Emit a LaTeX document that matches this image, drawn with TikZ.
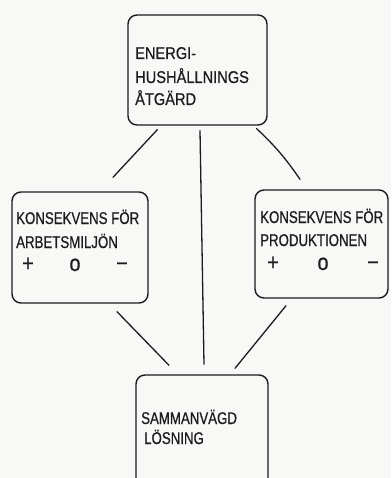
\documentclass[tikz,border=0pt]{standalone}
\usepackage{fontspec}
\setmainfont{Liberation Sans}
\newfontfamily\hand{Liberation Sans}[FakeStretch=0.78, FakeBold=0.6]
\newfontfamily\handwide{Liberation Sans}[FakeStretch=0.86, FakeBold=0.6]
\usetikzlibrary{calc}
\definecolor{paper}{HTML}{F8F8F6}
\definecolor{ink}{HTML}{1C1C1C}
\begin{document}
\begin{tikzpicture}[x=1pt,y=-1pt,
  card/.style={draw=ink, line width=1.4pt, rounded corners=9pt, inner sep=0pt},
  word/.style={anchor=base west, inner sep=0pt, text=ink,
               font=\hand\fontsize{17}{22}\selectfont},
  wideword/.style={word, font=\handwide\fontsize{17}{22}\selectfont},
  sign/.style={anchor=base, inner sep=0pt, text=ink,
               font=\handwide\fontsize{23}{24}\selectfont},
  link/.style={draw=ink, line width=1.3pt, line cap=round}]

  % sheet
  \fill[paper] (0,0) rectangle (391,478);
  \useasboundingbox (0,0) rectangle (391,478);
  \clip (0,0) rectangle (391,478);

  % boxes
  \node[card, minimum width=139pt, minimum height=110pt] (top)    at (197.5,70)  {};
  \node[card, minimum width=136pt, minimum height=111pt] (left)   at (80,247.5)  {};
  \node[card, minimum width=133pt, minimum height=108pt] (right)  at (321.5,244) {};
  \node[card, minimum width=132pt, minimum height=116pt] (bottom) at (202,433)   {};

  % measure
  \node[wideword] (t1) at (135,59)  {ENERGI-};
  \node[wideword] (t2) at (135,83)  {HUSHÅLLNINGS};
  \node[wideword] (t3) at (135,105) {ÅTGÄRD};

  % consequence for the working environment
  \node[word] (l1) at (16,224) {KONSEKVENS FÖR};
  \node[word] (l2) at (16,248) {ARBETSMILJÖN};
  \node[sign] (lp) at (28,271)  {+};
  \node[sign] (lo) at (75,271)  {o};
  \node[sign] (lm) at (122,271) {−};

  % consequence for production
  \node[word] (r1) at (260,223) {KONSEKVENS FÖR};
  \node[word] (r2) at (260,246) {PRODUKTIONEN};
  \node[sign] (rp) at (273,270) {+};
  \node[sign] (ro) at (323,270) {o};
  \node[sign] (rm) at (373,270) {−};

  % weighed solution
  \node[word] (b1) at (141,424) {SAMMANVÄGD};
  \node[word] (b2) at (144,444) {LÖSNING};

  % connectors
  \draw[link] ($(top.south west)+(30,4)$)   -- ($(left.north)+(33,-14)$);
  \draw[link] ($(top.south)+(2.5,5)$)       -- ($(bottom.north)+(2,-10)$);
  \draw[link] ($(top.south east)+(-11,3)$)  to[bend left=6] ($(right.north)+(-21.5,-10)$);
  \draw[link] ($(left.south)+(37,8)$)       -- ($(bottom.north)+(-33,-9)$);
  \draw[link] ($(right.south)+(-35.5,7)$)   -- ($(bottom.north)+(33,-6)$);
\end{tikzpicture}
\end{document}
